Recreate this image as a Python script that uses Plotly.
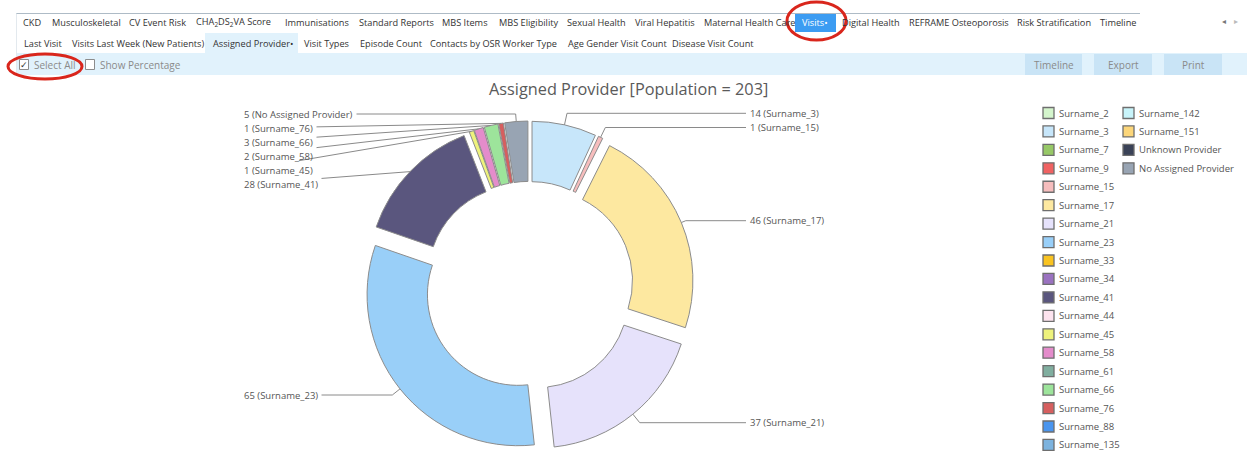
import math
import plotly.graph_objects as go

# ---------------- data ----------------
providers = ["Surname_2", "Surname_3", "Surname_7", "Surname_9", "Surname_15", "Surname_17",
             "Surname_21", "Surname_23", "Surname_33", "Surname_34", "Surname_41", "Surname_44",
             "Surname_45", "Surname_58", "Surname_61", "Surname_66", "Surname_76", "Surname_88",
             "Surname_135", "Surname_142", "Surname_151", "Unknown Provider", "No Assigned Provider"]
patients = [0, 14, 0, 0, 1, 46, 37, 65, 0, 0, 28, 0, 1, 2, 0, 3, 1, 0, 0, 0, 0, 0, 5]
colors = ["#d4f5cc", "#c7e6fa", "#97c867", "#f06262", "#f6bdbd", "#fde8a0",
          "#e6e2fb", "#99cff8", "#f9c320", "#9a72c0", "#5a567e", "#fde3ee",
          "#eef27c", "#e48ccb", "#80ae9f", "#9de49b", "#d65f5f", "#4a95ee",
          "#7db3de", "#c8f4fa", "#fcd67a", "#3a4257", "#98a4b3"]
legend_col2 = ["Surname_142", "Surname_151", "Unknown Provider", "No Assigned Provider"]
title_text = "Assigned Provider [Population = %d]" % sum(patients)

tabs_row1 = ["CKD", "Musculoskeletal", "CV Event Risk", "CHA<sub>2</sub>DS<sub>2</sub>VA Score",
             "Immunisations", "Standard Reports", "MBS Items", "MBS Eligibility", "Sexual Health",
             "Viral Hepatitis", "Maternal Health Care", "Visits•", "Digital Health",
             "REFRAME Osteoporosis", "Risk Stratification", "Timeline"]
tabs_row1_x = [21, 50, 127, 194, 283, 357, 440, 497, 565, 633, 702, 800, 840, 907, 1015, 1098]
tabs_row2 = ["Last Visit", "Visits Last Week (New Patients)", "Assigned Provider•", "Visit Types",
             "Episode Count", "Contacts by OSR Worker Type", "Age Gender Visit Count",
             "Disease Visit Count"]
tabs_row2_x = [22, 70, 211, 302, 358, 428, 566, 670]
buttons = ["Timeline", "Export", "Print"]
buttons_x = [(1025, 1082), (1094, 1152), (1164, 1222)]

# label placement (layout only): side, label y (px), elbow
label_layout = {
    "Surname_3": ("r", 113.3, True),
    "Surname_15": ("r", 127.5, True),
    "Surname_17": ("r", 220.7, True),
    "Surname_21": ("r", 422.7, True),
    "Surname_23": ("l", 395.0, True),
    "Surname_41": ("l", 184.7, False),
    "Surname_45": ("l", 170.7, False),
    "Surname_58": ("l", 156.5, False),
    "Surname_66": ("l", 142.3, False),
    "Surname_76": ("l", 128.3, False),
    "No Assigned Provider": ("l", 114.0, True),
}

# ---------------- geometry ----------------
W, H = 1247, 451
FONT = "Open Sans"
PULL = 0.093
HOLE = 0.60
box_top, box_bot = 121.0, 451.0
box = box_bot - box_top
cx = 529.0
cy = (box_top + box_bot) / 2
R = box / (2 * (1 + PULL))

nz_labels = [p for p, v in zip(providers, patients) if v > 0]
nz_values = [v for v in patients if v > 0]
nz_colors = [c for c, v in zip(colors, patients) if v > 0]
total = sum(nz_values)

fig = go.Figure()

# main donut
fig.add_trace(go.Pie(
    labels=nz_labels, values=nz_values, sort=False, direction="clockwise", rotation=0,
    hole=HOLE, pull=[PULL] * len(nz_values),
    marker=dict(colors=nz_colors, line=dict(color="#8c8c8c", width=1)),
    textinfo="none", showlegend=False,
    domain=dict(x=[(cx - box / 2) / W, (cx + box / 2) / W], y=[1 - box_bot / H, 1 - box_top / H]),
))

shapes = []
annotations = []

# legend (two columns) drawn on the hidden pixel axes
LEG_Y0, LEG_DY = 113.0, 18.44
col1 = [(p, c) for p, c in zip(providers, colors) if p not in legend_col2]
col2 = [(p, c) for p, c in zip(providers, colors) if p in legend_col2]
for items, sx in ((col1, 1048.5), (col2, 1128.5)):
    ys = [LEG_Y0 + i * LEG_DY for i in range(len(items))]
    fig.add_trace(go.Scatter(
        x=[sx] * len(items), y=ys, mode="markers", showlegend=False, hoverinfo="skip",
        marker=dict(symbol="square", size=11, color=[c for _, c in items],
                    line=dict(color="#6e6e6e", width=1.3)),
    ))
    for (p, _), y in zip(items, ys):
        annotations.append(dict(x=sx + 8, y=y, xref="x", yref="y", text=p, showarrow=False,
                                xanchor="left", yanchor="middle",
                                font=dict(family=FONT, size=9.5, color="#555555")))

# leader lines + labels
cum = 0
for lab, v in zip(nz_labels, nz_values):
    th = (cum + v / 2) / total * 2 * math.pi
    cum += v
    if lab not in label_layout:
        continue
    side, ly, elbow = label_layout[lab]
    dx, dy = math.sin(th), -math.cos(th)
    ex = cx + R * (1 + PULL) * dx
    ey = cy + R * (1 + PULL) * dy
    hx, hy = ex, ey
    if elbow and abs(dy) > 1e-6:
        t = (ly - ey) / dy
        if t > 0:
            hx, hy = ex + t * dx, ey + t * dy
            shapes.append(dict(type="line", xref="x", yref="y", x0=ex, y0=ey, x1=hx, y1=hy,
                               line=dict(color="#8a8a8a", width=1)))
    tx = 746 if side == "r" else 240
    annotations.append(dict(
        x=hx, y=hy, xref="x", yref="y", ax=tx, ay=ly, axref="x", ayref="y",
        text="%d (%s)" % (v, lab), showarrow=True, arrowhead=0, arrowwidth=1,
        arrowcolor="#8a8a8a", standoff=0, xanchor="left", yanchor="middle",
        borderpad=3,
        font=dict(family=FONT, size=9.5, color="#555555"),
    ))

# ---------------- UI chrome ----------------
def rect(x0, y0, x1, y1, fill, line=None, lw=1):
    shapes.append(dict(type="rect", xref="x", yref="y", x0=x0, y0=y0, x1=x1, y1=y1,
                       fillcolor=fill, line=dict(color=line or fill, width=lw if line else 0),
                       layer="below"))

shapes.append(dict(type="line", xref="x", yref="y", x0=16, y0=13.5, x1=1140, y1=13.5,
                   line=dict(color="#aebbc6", width=1)))
shapes.append(dict(type="line", xref="x", yref="y", x0=16.5, y0=13.5, x1=16.5, y1=75,
                   line=dict(color="#e3e9ee", width=1)))
rect(16, 53, 1247, 75, "#e1f2fc")
rect(205, 33, 298, 53, "#e1f2fc")
rect(795, 14, 836, 32, "#3c9cf2")
for (bx0, bx1) in buttons_x:
    rect(bx0, 54, bx1, 75, "#c9e4f6")
rect(19.5, 59.5, 28.5, 69.5, "#ffffff", "#8c8c8c")
rect(85.5, 59.5, 94.5, 69.5, "#ffffff", "#8c8c8c")

for txt, x in zip(tabs_row1, tabs_row1_x):
    col = "#ffffff" if txt.startswith("Visits") else "#333333"
    annotations.append(dict(x=x, y=22, xref="x", yref="y", text=txt, showarrow=False,
                            xanchor="left", yanchor="middle",
                            font=dict(family=FONT, size=9.2, color=col)))
for txt, x in zip(tabs_row2, tabs_row2_x):
    annotations.append(dict(x=x, y=43, xref="x", yref="y", text=txt, showarrow=False,
                            xanchor="left", yanchor="middle",
                            font=dict(family=FONT, size=9.2, color="#333333")))
for txt, (bx0, bx1) in zip(buttons, buttons_x):
    annotations.append(dict(x=(bx0 + bx1) / 2, y=64.5, xref="x", yref="y", text=txt,
                            showarrow=False, xanchor="center", yanchor="middle",
                            font=dict(family=FONT, size=10, color="#8a8a8a")))
annotations.append(dict(x=24, y=64.5, xref="x", yref="y", text="✓", showarrow=False,
                        xanchor="center", yanchor="middle",
                        font=dict(family="DejaVu Sans", size=9, color="#333333")))
annotations.append(dict(x=32, y=64.5, xref="x", yref="y", text="Select All", showarrow=False,
                        xanchor="left", yanchor="middle",
                        font=dict(family=FONT, size=10, color="#8a8a8a")))
annotations.append(dict(x=98, y=64.5, xref="x", yref="y", text="Show Percentage", showarrow=False,
                        xanchor="left", yanchor="middle",
                        font=dict(family=FONT, size=10, color="#8a8a8a")))
annotations.append(dict(x=1224, y=21, xref="x", yref="y", text="◂", showarrow=False,
                        xanchor="center", yanchor="middle",
                        font=dict(family="DejaVu Sans", size=8, color="#777777")))
annotations.append(dict(x=1236, y=21, xref="x", yref="y", text="▸", showarrow=False,
                        xanchor="center", yanchor="middle",
                        font=dict(family="DejaVu Sans", size=8, color="#bbbbbb")))
# red highlight circles
shapes.append(dict(type="circle", xref="x", yref="y", x0=787, y0=2, x1=846, y1=40,
                   line=dict(color="#d9261c", width=3)))
shapes.append(dict(type="circle", xref="x", yref="y", x0=8, y0=54, x1=82, y1=79,
                   line=dict(color="#d9261c", width=3)))

# chart title
annotations.append(dict(x=628.5, y=89, xref="x", yref="y", text=title_text, showarrow=False,
                        xanchor="center", yanchor="middle",
                        font=dict(family=FONT, size=16.3, color="#5a5a5a")))

fig.update_layout(
    width=W, height=H, margin=dict(l=0, r=0, t=0, b=0),
    paper_bgcolor="white", plot_bgcolor="rgba(0,0,0,0)", showlegend=False,
    xaxis=dict(range=[0, W], visible=False, fixedrange=True, domain=[0, 1]),
    yaxis=dict(range=[H, 0], visible=False, fixedrange=True, domain=[0, 1]),
    shapes=shapes, annotations=annotations,
)

fig.write_html("out.html", config={"staticPlot": True},
               post_script="document.body.style.margin='0';document.body.style.overflow='hidden';")
